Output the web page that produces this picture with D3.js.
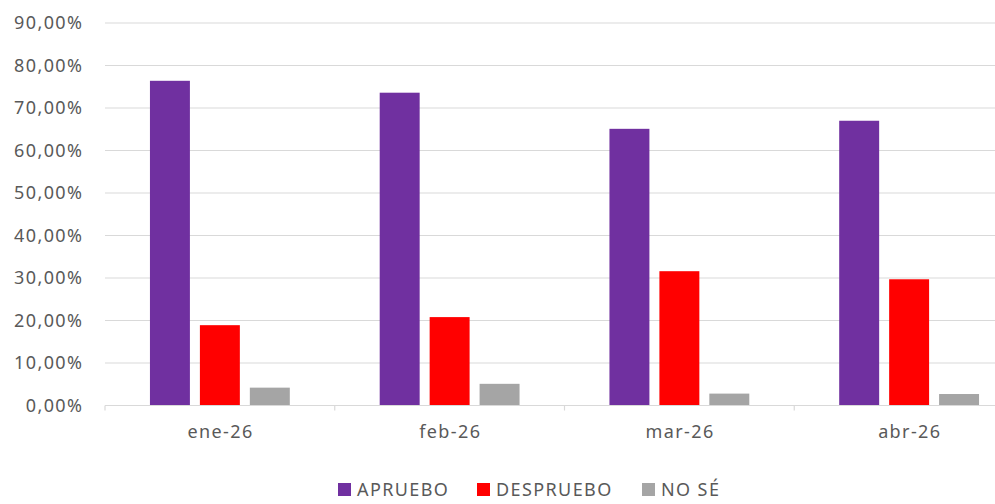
<!DOCTYPE html>
<html><head><meta charset="utf-8">
<script src="https://cdn.jsdelivr.net/npm/d3@7"></script>
<style>
body{margin:0;background:#fff;overflow:hidden}
svg{display:block;font-family:"Noto Sans",sans-serif}
text{letter-spacing:1.4px}
</style></head><body>
<svg id="c" width="995" height="504"></svg>
<script>
const categories = ["ene-26","feb-26","mar-26","abr-26"];
const seriesNames = ["APRUEBO","DESPRUEBO","NO SÉ"];
const aprueboValues = [76.4, 73.6, 65.1, 67.0];
const desapruebaValues = [18.9, 20.8, 31.6, 29.7];
const noSeValues = [4.2, 5.1, 2.8, 2.7];
const yTicks = [0,10,20,30,40,50,60,70,80,90];
const colors = ["#7030A0","#FF0000","#A5A5A5"];

(function(){
const seriesValues = [aprueboValues, desapruebaValues, noSeValues];
const data = categories.map((c,i)=>({cat:c, vals:seriesNames.map((s,j)=>({s, v:seriesValues[j][i], k:j}))}));

const svg = d3.select("#c");
const pl = 105, pr = 1024, pt = 23, pb = 405.5;
const x0 = d3.scaleBand().domain(categories).range([pl,pr]);
const x1 = d3.scaleBand().domain(seriesNames).range([0,x0.bandwidth()]).paddingInner(0.2).paddingOuter(0.9);
const y = d3.scaleLinear().domain([0,90]).range([pb,pt]);

svg.append("g").selectAll("line").data(yTicks.filter(t=>t>0)).join("line")
  .attr("x1",pl).attr("x2",pr).attr("y1",d=>y(d)).attr("y2",d=>y(d))
  .attr("stroke","#D9D9D9").attr("stroke-width",1);

const fmt = v => v.toFixed(2).replace(".",",")+"%";
svg.append("g").selectAll("text").data(yTicks).join("text")
  .attr("x",83.4).attr("y",d=>y(d)).attr("dy","0.35em").attr("text-anchor","end")
  .attr("fill","#595959").attr("font-size",18).text(fmt);

const g = svg.append("g").selectAll("g").data(data).join("g")
  .attr("transform",d=>`translate(${x0(d.cat)},0)`);
g.selectAll("rect").data(d=>d.vals).join("rect")
  .attr("x",d=>x1(d.s)).attr("width",x1.bandwidth())
  .attr("y",d=>y(d.v)).attr("height",d=>y(0)-y(d.v))
  .attr("fill",d=>colors[d.k]);

const xa = svg.append("g").attr("transform",`translate(0,${pb})`);
xa.append("line").attr("x1",pl).attr("x2",pr).attr("stroke","#D9D9D9").attr("stroke-width",1.2);
const bounds = categories.map(c=>x0(c)).concat([pr]);
xa.selectAll("line.t").data(bounds).join("line").attr("class","t")
  .attr("x1",d=>d).attr("x2",d=>d).attr("y1",0).attr("y2",5).attr("stroke","#D9D9D9").attr("stroke-width",1.2);
xa.selectAll("text").data(categories).join("text")
  .attr("x",d=>x0(d)+x0.bandwidth()/2+0.7).attr("y",32).attr("text-anchor","middle")
  .attr("fill","#595959").attr("font-size",18).text(d=>d);

const legendX = [338, 477, 642];
const lg = svg.append("g").selectAll("g").data(seriesNames).join("g")
  .attr("transform",(d,i)=>`translate(${legendX[i]},490)`);
lg.append("rect").attr("x",0).attr("y",-7).attr("width",13).attr("height",13).attr("fill",(d,i)=>colors[i]);
lg.append("text").attr("x",19).attr("y",0).attr("dy","0.35em").attr("fill","#595959").attr("font-size",18).text(d=>d);
})();
</script>
</body></html>
